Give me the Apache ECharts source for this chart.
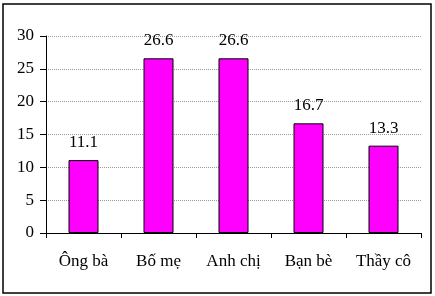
<!DOCTYPE html>
<html><head><meta charset="utf-8">
<script src="https://cdn.jsdelivr.net/npm/echarts@6/dist/echarts.min.js"></script>
<style>html,body{margin:0;padding:0;background:#fff}#c{width:435px;height:296px}</style>
</head><body><div id="c"></div>
<script>
var categories = ["Ông bà", "Bố mẹ", "Anh chị", "Bạn bè", "Thầy cô"];
var values = [11.1, 26.6, 26.6, 16.7, 13.3];
var yTicks = [0, 5, 10, 15, 20, 25, 30];

var font = "Times New Roman, Liberation Serif, DejaVu Serif, serif";
var chart = echarts.init(document.getElementById('c'), null, {renderer: 'canvas'});
chart.setOption({
  animation: false,
  backgroundColor: '#fff',
  textStyle: {fontFamily: font},
  graphic: [{
    type: 'rect', shape: {x: 3, y: 4, width: 428, height: 289},
    style: {fill: 'none', stroke: '#000', lineWidth: 1.5}, z: 100
  }],
  grid: {left: 46, top: 36, right: 14, bottom: 63},
  xAxis: {
    type: 'category', data: categories,
    axisLine: {lineStyle: {color: '#000', width: 1}},
    axisTick: {show: true, length: 5, alignWithLabel: false, lineStyle: {color: '#000'}},
    axisLabel: {color: '#000', fontFamily: font, fontSize: 17, margin: 20}
  },
  yAxis: {
    type: 'value', min: yTicks[0], max: yTicks[yTicks.length - 1], interval: 5,
    axisLine: {show: true, lineStyle: {color: '#000', width: 1}},
    axisTick: {show: true, length: 6, lineStyle: {color: '#000'}},
    axisLabel: {color: '#000', fontFamily: font, fontSize: 17, margin: 12},
    splitLine: {show: true, lineStyle: {color: '#9a9a9a', type: [1, 1], width: 1}}
  },
  series: [{
    type: 'bar', data: values, barWidth: '40%',
    itemStyle: {color: '#ff00ff', borderColor: '#000', borderWidth: 1},
    label: {show: true, position: 'top', distance: 9, color: '#000', fontFamily: font, fontSize: 17,
      formatter: function (p) { return p.value.toFixed(1); }}
  }]
});
</script></body></html>
